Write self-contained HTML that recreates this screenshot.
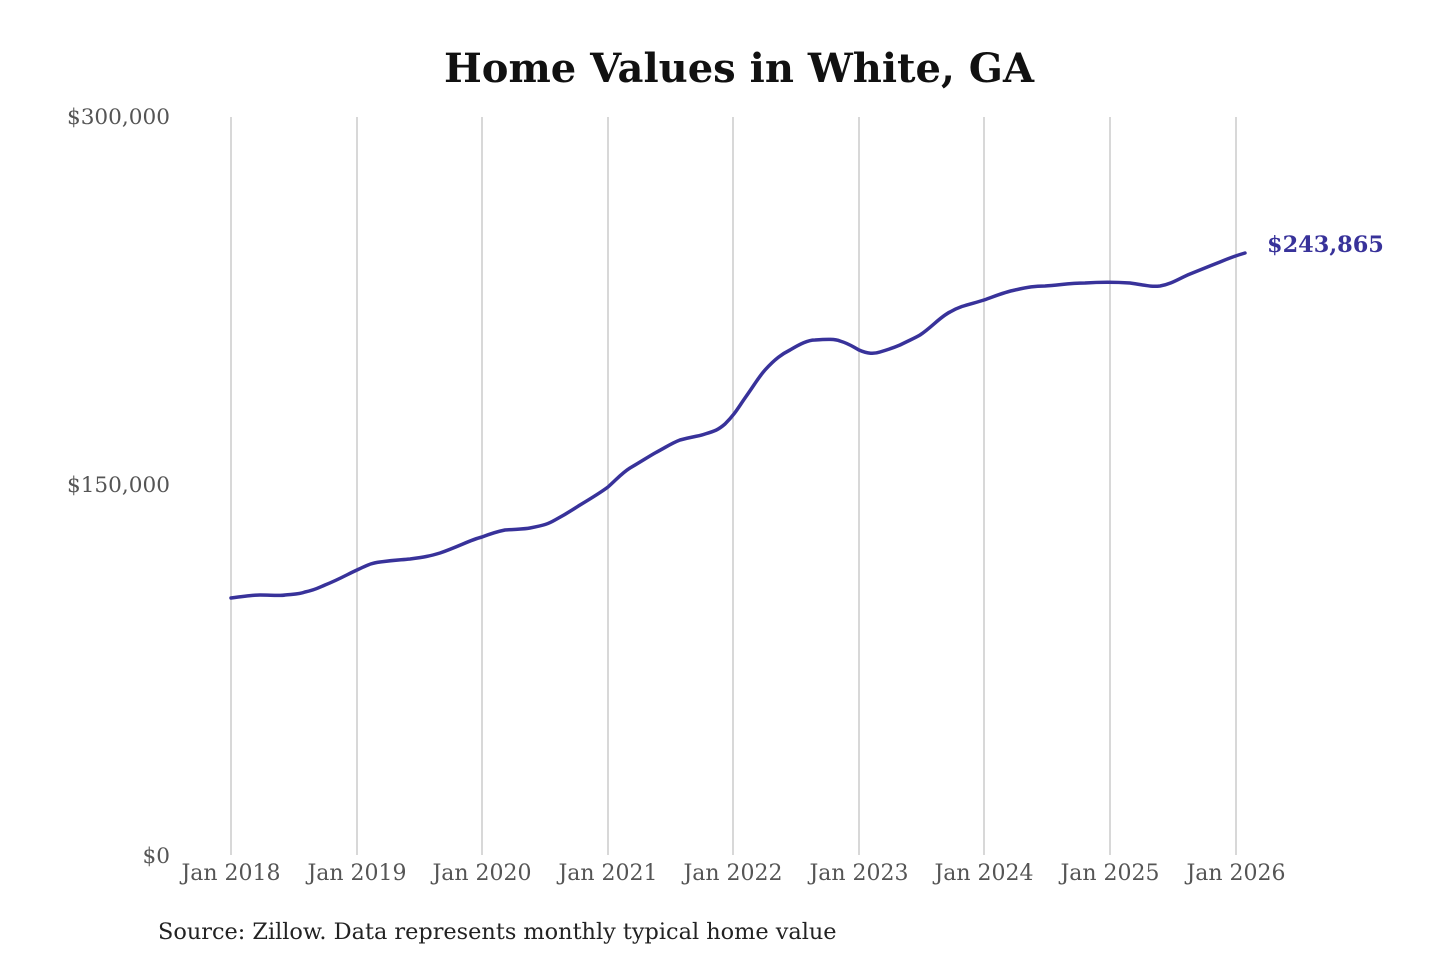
<!DOCTYPE html>
<html><head><meta charset="utf-8"><style>
html,body{margin:0;padding:0;background:#fff;}
svg{display:block;}
text{font-family:"DejaVu Serif","Liberation Serif",serif;}
</style></head><body>
<svg width="1440" height="960" viewBox="0 0 1440 960" xmlns="http://www.w3.org/2000/svg">
<rect width="1440" height="960" fill="#fff"/>
<text x="739" y="82" text-anchor="middle" font-size="40" font-weight="bold" fill="#111">Home Values in White, GA</text>
<g stroke="#bdbdbd" stroke-width="1.2">
<line x1="231" y1="117" x2="231" y2="855"/>
<line x1="357" y1="117" x2="357" y2="855"/>
<line x1="482" y1="117" x2="482" y2="855"/>
<line x1="608" y1="117" x2="608" y2="855"/>
<line x1="733" y1="117" x2="733" y2="855"/>
<line x1="859" y1="117" x2="859" y2="855"/>
<line x1="984" y1="117" x2="984" y2="855"/>
<line x1="1110" y1="117" x2="1110" y2="855"/>
<line x1="1236" y1="117" x2="1236" y2="855"/>
</g>
<g font-size="21.6" fill="#555" text-anchor="end">
<text x="170" y="124">$300,000</text>
<text x="170" y="492">$150,000</text>
<text x="170" y="863">$0</text>
</g>
<g font-size="22" fill="#555" text-anchor="middle">
<text x="231" y="880">Jan 2018</text>
<text x="357" y="880">Jan 2019</text>
<text x="482" y="880">Jan 2020</text>
<text x="608" y="880">Jan 2021</text>
<text x="733" y="880">Jan 2022</text>
<text x="859" y="880">Jan 2023</text>
<text x="984" y="880">Jan 2024</text>
<text x="1110" y="880">Jan 2025</text>
<text x="1236" y="880">Jan 2026</text>
</g>
<path fill="none" stroke="#38329a" stroke-width="3.5" stroke-linejoin="round" stroke-linecap="round"
d="M231,598 C245,596 255,595 260,595 C270,595 280,596 285,595 C295,594 300,594 305,592 C315,590 318,588 325,585 C340,579 348,574 357,570 C370,564 372,563 380,562 C395,560 400,560 410,559 C425,557 430,556 440,553 C460,546 470,540 482,537 C495,532 500,531 505,530 C520,529 525,529 530,528 C545,525 548,524 555,520 C568,513 572,510 580,505 C595,496 600,493 608,487 C618,478 622,473 630,468 C642,461 648,457 655,453 C668,446 672,443 680,440 C695,436 700,436 705,434 C715,431 718,430 725,424 C735,414 738,408 745,398 C755,384 758,378 765,370 C775,359 782,354 790,350 C800,344 808,340 815,340 C828,339 835,339 840,341 C850,344 853,347 859,350 C868,354 874,354 880,352 C890,349 893,348 900,345 C910,340 915,338 920,335 C932,327 940,317 950,312 C962,305 972,304 984,300 C998,295 1005,292 1015,290 C1028,287 1035,286 1045,286 C1060,285 1070,283 1085,283 C1100,282 1115,282 1130,283 C1145,285 1150,287 1160,286 C1172,284 1180,278 1190,274 C1205,268 1210,266 1220,262 C1232,257 1238,255 1245,253"/>
<text x="1267" y="252" font-size="22.4" font-weight="bold" fill="#38329a">$243,865</text>
<text x="158" y="939" font-size="22.4" fill="#222">Source: Zillow. Data represents monthly typical home value</text>
</svg>
</body></html>
